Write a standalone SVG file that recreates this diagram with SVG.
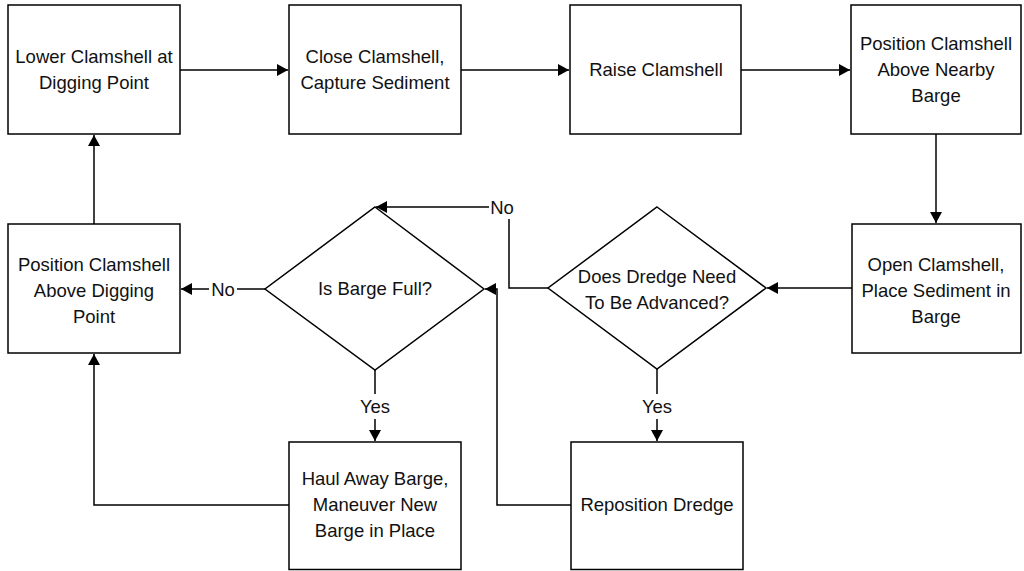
<svg xmlns="http://www.w3.org/2000/svg" width="1024" height="571" viewBox="0 0 1024 571">
<style>
.box{fill:#fff;stroke:#000;stroke-width:1.5}
.ln{fill:none;stroke:#000;stroke-width:1.5}
.arr{marker-end:url(#ah)}
text{font-family:"Liberation Sans",Arial,sans-serif;font-size:18.5px;fill:#111;text-anchor:middle}
</style>
<defs>
<marker id="ah" markerWidth="12" markerHeight="12" viewBox="0 0 12 12" refX="11" refY="6" orient="auto" markerUnits="userSpaceOnUse">
<path d="M0,0 L11,6 L0,12 Z" fill="#000"/>
</marker>
</defs>
<rect width="1024" height="571" fill="#fff"/>
<g id="connectors">
<path class="ln arr" d="M180,70 H288"/>
<path class="ln arr" d="M461,70 H569"/>
<path class="ln arr" d="M741,70 H850"/>
<path class="ln arr" d="M936,134 V223"/>
<path class="ln arr" d="M852,288 H767"/>
<path class="ln" d="M548,288 H509 V219"/>
<path class="ln arr" d="M489,207 H376"/>
<path class="ln" d="M265,289 H237"/>
<path class="ln arr" d="M209,289 H181"/>
<path class="ln" d="M375,370 V394"/>
<path class="ln arr" d="M375,419 V441"/>
<path class="ln" d="M657,369 V394"/>
<path class="ln arr" d="M657,419 V441"/>
<path class="ln arr" d="M571,505 H497 V289 H485"/>
<path class="ln arr" d="M289,505 H94 V354"/>
<path class="ln arr" d="M94,224 V135"/>
<text x="502" y="214">No</text>
<text x="223" y="296">No</text>
<text x="375" y="413">Yes</text>
<text x="657" y="413">Yes</text>
</g>
<g id="n1"><rect class="box" x="8" y="5" width="172" height="129"/><text x="94" y="63">Lower Clamshell at</text><text x="94" y="89">Digging Point</text></g>
<g id="n2"><rect class="box" x="289" y="5" width="172" height="129"/><text x="375" y="63">Close Clamshell,</text><text x="375" y="89">Capture Sediment</text></g>
<g id="n3"><rect class="box" x="570" y="5" width="171" height="129"/><text x="656" y="76">Raise Clamshell</text></g>
<g id="n4"><rect class="box" x="851" y="5" width="170" height="129"/><text x="936" y="50">Position Clamshell</text><text x="936" y="76">Above Nearby</text><text x="936" y="102">Barge</text></g>
<g id="n5"><rect class="box" x="852" y="224" width="169" height="129"/><text x="936" y="271">Open Clamshell,</text><text x="936" y="297">Place Sediment in</text><text x="936" y="323">Barge</text></g>
<g id="n6"><path class="box" d="M657,207 L766,288 L657,369 L548,288 Z"/><text x="657" y="283">Does Dredge Need</text><text x="657" y="309">To Be Advanced?</text></g>
<g id="n7"><path class="box" d="M375,207 L484,289 L375,370 L265,289 Z"/><text x="375" y="295">Is Barge Full?</text></g>
<g id="n8"><rect class="box" x="8" y="224" width="172" height="129"/><text x="94" y="271">Position Clamshell</text><text x="94" y="297">Above Digging</text><text x="94" y="323">Point</text></g>
<g id="n9"><rect class="box" x="289" y="442" width="172" height="127.5"/><text x="375" y="485">Haul Away Barge,</text><text x="375" y="511">Maneuver New</text><text x="375" y="537">Barge in Place</text></g>
<g id="n10"><rect class="box" x="571" y="442" width="172" height="127.5"/><text x="657" y="511">Reposition Dredge</text></g>
</svg>
